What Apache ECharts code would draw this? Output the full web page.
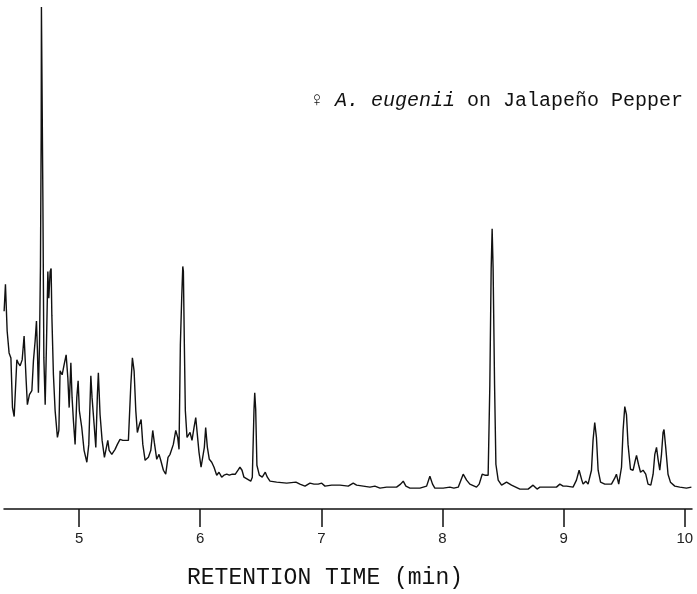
<!DOCTYPE html>
<html>
<head>
<meta charset="utf-8">
<script src="https://cdn.jsdelivr.net/npm/echarts@6/dist/echarts.min.js"></script>
<style>
  html, body { margin: 0; padding: 0; background: #fff; }
  #chart { width: 697px; height: 594px; }
</style>
</head>
<body>
<div id="chart"></div>
<script>
// retention time (min)
const times = [
  4.381, 4.392, 4.406, 4.422, 4.437, 4.450, 4.464, 4.478, 4.486, 4.497,
  4.513, 4.530, 4.546, 4.563, 4.573, 4.590, 4.610, 4.623, 4.637, 4.648,
  4.656, 4.664, 4.673, 4.681, 4.687, 4.689, 4.695, 4.701, 4.709, 4.720,
  4.730, 4.742, 4.750, 4.761, 4.769, 4.775, 4.788, 4.802, 4.821, 4.833,
  4.843, 4.860, 4.876, 4.893, 4.907, 4.918, 4.932, 4.942, 4.953, 4.967,
  4.981, 4.992, 5.002, 5.022, 5.041, 5.064, 5.080, 5.097, 5.107, 5.124,
  5.138, 5.151, 5.159, 5.173, 5.190, 5.209, 5.223, 5.237, 5.248, 5.270,
  5.297, 5.316, 5.338, 5.361, 5.388, 5.407, 5.427, 5.440, 5.454, 5.468,
  5.481, 5.498, 5.512, 5.526, 5.545, 5.572, 5.592, 5.608, 5.621, 5.641,
  5.660, 5.674, 5.696, 5.715, 5.734, 5.751, 5.765, 5.778, 5.798, 5.814,
  5.825, 5.836, 5.847, 5.856, 5.861, 5.869, 5.877, 5.891, 5.905, 5.916,
  5.932, 5.949, 5.963, 5.976, 5.990, 6.007, 6.021, 6.034, 6.045, 6.059,
  6.075, 6.095, 6.114, 6.136, 6.155, 6.177, 6.196, 6.219, 6.240, 6.265,
  6.290, 6.312, 6.328, 6.345, 6.361, 6.389, 6.417, 6.430, 6.444, 6.450,
  6.458, 6.468, 6.488, 6.512, 6.537, 6.554, 6.576, 6.631, 6.714, 6.790,
  6.823, 6.865, 6.906, 6.939, 6.974, 7.003, 7.030, 7.085, 7.154, 7.222,
  7.263, 7.291, 7.346, 7.401, 7.442, 7.484, 7.539, 7.621, 7.654, 7.676,
  7.698, 7.731, 7.814, 7.869, 7.896, 7.918, 7.937, 8.006, 8.061, 8.094,
  8.130, 8.144, 8.171, 8.199, 8.226, 8.281, 8.303, 8.328, 8.350, 8.377,
  8.391, 8.402, 8.410, 8.418, 8.430, 8.441, 8.460, 8.488, 8.529, 8.570,
  8.639, 8.707, 8.748, 8.781, 8.804, 8.941, 8.969, 8.996, 9.024, 9.078,
  9.106, 9.128, 9.148, 9.161, 9.183, 9.202, 9.216, 9.230, 9.243, 9.257,
  9.271, 9.285, 9.305, 9.340, 9.395, 9.422, 9.436, 9.455, 9.478, 9.491,
  9.505, 9.519, 9.532, 9.552, 9.574, 9.588, 9.602, 9.618, 9.635, 9.656,
  9.678, 9.697, 9.720, 9.739, 9.753, 9.767, 9.780, 9.794, 9.808, 9.821,
  9.829, 9.843, 9.862, 9.882, 9.918, 9.959, 10.014, 10.055
];

// detector response (arbitrary units)
const response = [
  199, 226, 179, 157, 152, 102, 93, 129, 150, 147,
  144, 150, 174, 129, 105, 115, 119, 149, 169, 189,
  159, 117, 165, 245, 379, 505, 505, 312, 152, 105,
  162, 239, 212, 239, 242, 195, 135, 99, 72, 79,
  139, 135, 145, 155, 132, 102, 147, 112, 89, 65,
  112, 129, 99, 82, 59, 47, 65, 134, 112, 85,
  62, 115, 137, 95, 69, 52, 50, 69, 59, 55,
  60, 65, 70, 69, 69, 69, 125, 152, 139, 99,
  77, 85, 90, 65, 49, 52, 59, 79, 67, 50,
  55, 49, 39, 35, 52, 55, 55, 65, 79, 72,
  60, 165, 212, 244, 239, 165, 99, 72, 70, 77,
  69, 82, 92, 75, 57, 42, 42, 62, 82, 62,
  50, 47, 42, 34, 37, 32, 34, 35, 34, 35,
  35, 39, 42, 39, 32, 30, 28, 32, 100, 117,
  100, 44, 34, 32, 37, 32, 28, 27, 26, 27,
  25, 23, 26, 25, 25, 26, 23, 24, 24, 23,
  26, 24, 23, 22, 23, 21, 22, 22, 25, 28,
  23, 21, 21, 23, 33, 25, 21, 21, 22, 21,
  22, 21, 35, 29, 25, 22, 25, 35, 34, 34,
  125, 242, 282, 242, 125, 45, 29, 24, 27, 24,
  20, 20, 24, 20, 22, 22, 25, 23, 23, 22,
  29, 39, 30, 25, 28, 25, 26, 39, 69, 87,
  72, 39, 27, 25, 25, 31, 35, 25, 42, 79,
  103, 95, 65, 40, 39, 47, 54, 45, 37, 39,
  35, 25, 24, 35, 55, 62, 50, 39, 55, 77,
  80, 62, 35, 27, 23, 22, 21, 22
];

const timeTicks = [5, 6, 7, 8, 9, 10];

const chart = echarts.init(document.getElementById('chart'));

const points = times.map((t, i) => [t, response[i]]);

const option = {
  animation: false,
  backgroundColor: '#fff',
  title: {
    text: '♀ {i|A. eugenii} on Jalapeño Pepper',
    right: 9,
    top: 86,
    textStyle: {
      fontFamily: '"Courier New", "Liberation Mono", monospace',
      fontSize: 20,
      fontWeight: 'normal',
      color: '#111',
      rich: {
        i: {
          fontFamily: '"Courier New", "Liberation Mono", monospace',
          fontSize: 20,
          fontStyle: 'italic',
          color: '#111'
        }
      }
    }
  },
  grid: { left: 4, right: 5, top: 0, bottom: 82 },
  xAxis: {
    type: 'value',
    min: 4.38,
    max: 10.06,
    interval: 1,
    name: 'RETENTION TIME (min)',
    nameLocation: 'middle',
    nameGap: 57,
    nameTextStyle: {
      fontFamily: '"Courier New", "Liberation Mono", monospace',
      fontSize: 23,
      color: '#111',
      padding: [0, 46, 0, 0]
    },
    axisLine: { show: true, lineStyle: { color: '#111', width: 1.5 } },
    axisTick: {
      show: true,
      length: 18,
      inside: false,
      customValues: timeTicks,
      lineStyle: { color: '#111', width: 1.5 }
    },
    axisLabel: {
      margin: 22,
      fontFamily: '"Liberation Sans", Arial, sans-serif',
      fontSize: 15,
      color: '#222',
      customValues: timeTicks
    },
    splitLine: { show: false }
  },
  yAxis: {
    type: 'value',
    min: 0,
    max: 512,
    show: false
  },
  series: [{
    type: 'line',
    data: points,
    showSymbol: false,
    lineStyle: { color: '#111', width: 1.4 },
    silent: true
  }]
};

chart.setOption(option);
</script>
</body>
</html>
